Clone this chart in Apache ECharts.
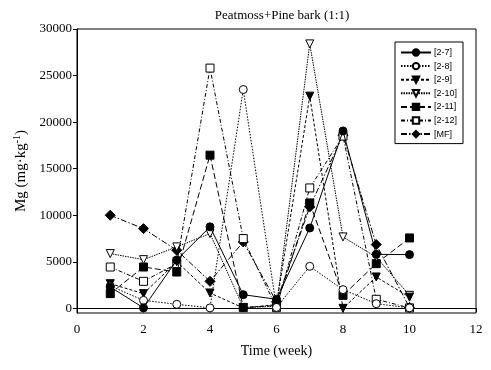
<!DOCTYPE html>
<html><head><meta charset="utf-8">
<script src="https://cdn.jsdelivr.net/npm/echarts@6/dist/echarts.min.js"></script>
<style>html,body{margin:0;padding:0;background:#fff}#c{width:491px;height:370px}</style>
</head><body><div id="c"></div>
<script>
const weeks = [1,2,3,4,5,6,7,8,9,10];
const s27  = [2300, 50, 5200, 8750, 1470, 970, 8630, 19050, 5800, 5770];
const s28  = [2400, 860, 430, 50, 23500, 100, 4510, 2010, 500, 50];
const s29  = [2650, 1580, 5000, 1650, 50, 400, 22790, 0, 3370, 1200];
const s210 = [5880, 5230, 6600, 8030, 100, 200, 28400, 7670, 5500, 1400];
const s211 = [1580, 4440, 3900, 16450, 80, 300, 11320, 1400, 4800, 7560];
const s212 = [4440, 2900, 4800, 25800, 7490, 80, 12930, 18500, 970, 50];
const sMF  = [10000, 8560, 6240, 2900, 7130, 700, 10890, 18600, 6850, 100];
const yTicks = [0,5000,10000,15000,20000,25000,30000];
const names = ['[2-7]','[2-8]','[2-9]','[2-10]','[2-11]','[2-12]','[MF]'];

const defs = [
  {d:s27, sym:'circle', rot:0, fill:'#000', dash:'solid'},
  {d:s28, sym:'circle', rot:0, fill:'#fff', dash:[1.5,1.5]},
  {d:s29, sym:'triangle', rot:180, fill:'#000', dash:[3,2]},
  {d:s210, sym:'triangle', rot:180, fill:'#fff', dash:[1.5,1]},
  {d:s211, sym:'rect', rot:0, fill:'#000', dash:[6,3]},
  {d:s212, sym:'rect', rot:0, fill:'#fff', dash:[4,2,1,2]},
  {d:sMF, sym:'diamond', rot:0, fill:'#000', dash:[6,2,1.5,2]}
];

const series = defs.map((s,i)=>({
  name: names[i], type:'line',
  data: weeks.map((w,j)=>[w, s.d[j]]),
  symbol: s.sym, symbolRotate: s.rot,
  symbolSize: s.sym==='diamond'?10:8,
  showAllSymbol:true,
  itemStyle:{color:s.fill, borderColor:'#000', borderWidth:1},
  lineStyle:{color:'#000', width:1, type:s.dash},
  z: 10-i
}));

const chart = echarts.init(document.getElementById('c'), null, {renderer:'canvas'});
chart.setOption({
  animation:false,
  backgroundColor:'#fff',
  title:{text:'Peatmoss+Pine bark (1:1)', left:277, textAlign:'center', top:4,
    textStyle:{fontFamily:'Liberation Serif', fontSize:13, fontWeight:'normal', color:'#000'}},
  grid:{left:77, right:15, top:29, bottom:57, show:true, borderColor:'#000', borderWidth:1},
  legend:{
    orient:'vertical', left:395, top:42, width:68,
    itemWidth:30, itemHeight:8, itemGap:4.6,
    borderColor:'#000', borderWidth:1, padding:[6,6,5,5],
    textStyle:{fontFamily:'Liberation Sans', fontSize:9, color:'#000', padding:[0,0,0,-2]},
    data:names
  },
  xAxis:{type:'value', min:0, max:12, interval:2,
    name:'Time (week)', nameLocation:'middle', nameGap:31,
    nameTextStyle:{fontFamily:'Liberation Serif', fontSize:14, color:'#000'},
    axisLine:{lineStyle:{color:'#000'}},
    axisTick:{show:true, length:4, lineStyle:{color:'#000'}},
    axisLabel:{fontFamily:'Liberation Serif', fontSize:13, color:'#000', margin:10},
    splitLine:{show:false}},
  yAxis:{type:'value', min:-500, max:30000,
    name:'Mg (mg·kg{sup|-1})', nameLocation:'middle', nameGap:47, nameRotate:90,
    nameTextStyle:{fontFamily:'Liberation Serif', fontSize:15, color:'#000',
      rich:{sup:{fontFamily:'Liberation Serif', fontSize:10, verticalAlign:'top', padding:[0,0,8,0], color:'#000'}}},
    axisLine:{show:true, lineStyle:{color:'#000'}},
    axisTick:{show:true, length:4, customValues:yTicks, lineStyle:{color:'#000'}},
    axisLabel:{customValues:yTicks, formatter:v=>String(v), fontFamily:'Liberation Serif', fontSize:13, color:'#000', margin:5},
    splitLine:{show:false}},
  series: series
});
</script></body></html>
